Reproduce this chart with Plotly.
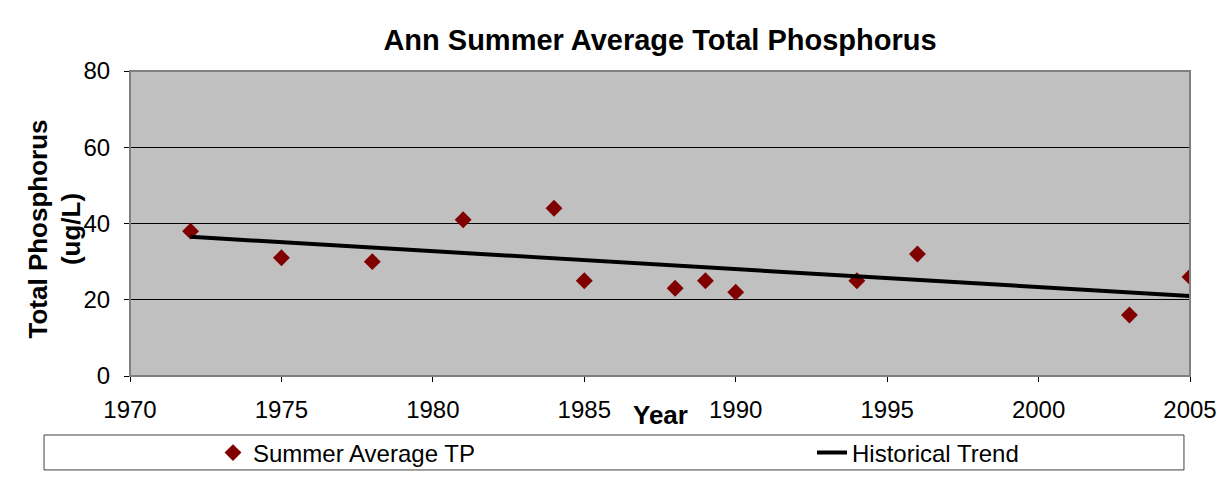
import plotly.graph_objects as go

years = [1972, 1975, 1978, 1981, 1984, 1985, 1988, 1989, 1990, 1994, 1996, 2003, 2005]
tp = [38, 31, 30, 41, 44, 25, 23, 25, 22, 25, 32, 16, 26]

trend_years = [1972, 2005]
trend_tp = [36.5, 21.0]

x_ticks = [1970, 1975, 1980, 1985, 1990, 1995, 2000, 2005]
y_ticks = [0, 20, 40, 60, 80]

# the page body adds an 8px margin, so the figure is 8px smaller than the window
W, H = 1222, 470

fig = go.Figure()
fig.add_trace(go.Scatter(x=years, y=tp, mode="markers", name="Summer Average TP",
                         marker=dict(symbol="diamond", size=13, color="#800000"),
                         legend="legend"))
fig.add_trace(go.Scatter(x=trend_years, y=trend_tp, mode="lines", name="Historical Trend",
                         line=dict(color="black", width=4), legend="legend2"))

# plot area border (gray, like excel)
fig.add_shape(type="rect", xref="x domain", yref="y domain", x0=0, x1=1, y0=0, y1=1,
              line=dict(color="#808080", width=2), layer="above")
# right edge of outer chart border
fig.add_shape(type="line", xref="paper", yref="paper", x0=1.0358, x1=1.0358, y0=-0.34, y1=1.21,
              line=dict(color="#808080", width=1))
# legend box
fig.add_shape(type="rect", xref="paper", yref="paper",
              x0=-0.0811, x1=0.9943, y0=-0.308, y1=-0.1934,
              line=dict(color="#404040", width=1), fillcolor="#FFFFFF", layer="below")

fig.add_annotation(text="<b>Year</b>", xref="paper", yref="paper", x=0.5, y=-0.128,
                   xanchor="center", yanchor="middle", showarrow=False, font=dict(size=26))
fig.add_annotation(text="<b>Total Phosphorus<br>(ug/L)</b>", xref="paper", yref="paper",
                   x=-0.0712, y=0.482, xanchor="center", yanchor="middle", textangle=-90,
                   showarrow=False, font=dict(size=26))

fig.update_layout(
    width=W, height=H,
    margin=dict(l=122, r=40, t=63, b=102, autoexpand=False),
    paper_bgcolor="white", plot_bgcolor="#C0C0C0",
    font=dict(family="Liberation Sans, Arial", size=24, color="black"),
    title=dict(text="<b>Ann Summer Average Total Phosphorus</b>", xref="paper", x=0.5,
               xanchor="center", yref="container", y=1 - 32 / H, yanchor="middle",
               font=dict(size=29)),
    showlegend=True,
    legend=dict(orientation="h", xref="container", yref="container", x=205 / W, xanchor="left",
                y=1 - 445 / H, yanchor="middle", bgcolor="rgba(0,0,0,0)", font=dict(size=24)),
    legend2=dict(orientation="h", xref="container", yref="container", x=804 / W, xanchor="left",
                 y=1 - 445 / H, yanchor="middle", bgcolor="rgba(0,0,0,0)", font=dict(size=24)),
)
fig.update_xaxes(range=[1970, 2005], tickvals=x_ticks, showgrid=False, zeroline=False,
                 showline=True, linecolor="black", linewidth=1,
                 ticks="outside", ticklen=5, tickcolor="black", tickfont=dict(size=24),
                 ticklabelstandoff=7)
fig.update_yaxes(range=[0, 80], tickvals=y_ticks, showgrid=True, gridcolor="black", gridwidth=1,
                 zeroline=False, showline=True, linecolor="black", linewidth=1,
                 ticks="outside", ticklen=5, tickcolor="black", tickfont=dict(size=24),
                 ticklabelstandoff=9)

fig.write_html("out.html")
